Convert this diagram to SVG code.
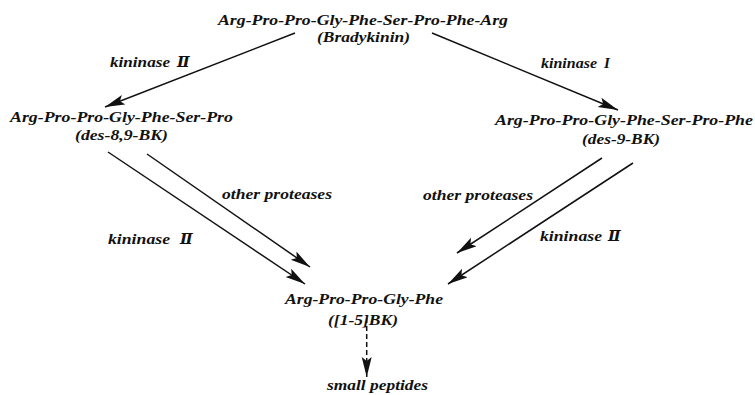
<svg xmlns="http://www.w3.org/2000/svg" width="755" height="395" viewBox="0 0 755 395">
<defs>
<style>
text{font-family:"Liberation Serif","Times New Roman","DejaVu Serif",serif;font-style:italic;font-weight:bold;font-size:15px;fill:#111}
.ln{stroke:#111;stroke-width:1.5;fill:none}
.dash{stroke-dasharray:5 3}
</style>
<marker id="ah" markerUnits="userSpaceOnUse" markerWidth="22" markerHeight="12" refX="20" refY="5" orient="auto">
<path d="M0,0 L20,5 L0,10 L4,5 z" fill="#111"/>
</marker>
</defs>
<rect width="755" height="395" fill="#fff"/>
<g id="bradykinin">
<text x="218" y="24.5" textLength="290" lengthAdjust="spacingAndGlyphs">Arg-Pro-Pro-Gly-Phe-Ser-Pro-Phe-Arg</text>
<text x="317" y="42" textLength="93" lengthAdjust="spacingAndGlyphs">(Bradykinin)</text>
</g>
<g id="des89bk">
<text x="10" y="122" textLength="223" lengthAdjust="spacingAndGlyphs">Arg-Pro-Pro-Gly-Phe-Ser-Pro</text>
<text x="75" y="140" textLength="93" lengthAdjust="spacingAndGlyphs">(des-8,9-BK)</text>
</g>
<g id="des9bk">
<text x="495" y="125" textLength="258" lengthAdjust="spacingAndGlyphs">Arg-Pro-Pro-Gly-Phe-Ser-Pro-Phe</text>
<text x="582" y="144" textLength="78" lengthAdjust="spacingAndGlyphs">(des-9-BK)</text>
</g>
<g id="bk15">
<text x="285" y="304" textLength="158" lengthAdjust="spacingAndGlyphs">Arg-Pro-Pro-Gly-Phe</text>
<text x="328" y="325" textLength="70" lengthAdjust="spacingAndGlyphs">([1-5]BK)</text>
</g>
<g id="smallpeptides">
<text x="327" y="390" textLength="101" lengthAdjust="spacingAndGlyphs">small peptides</text>
</g>
<g id="connectors">
<line class="ln" x1="295" y1="33" x2="105" y2="107" marker-end="url(#ah)"/>
<line class="ln" x1="432" y1="33" x2="618" y2="110" marker-end="url(#ah)"/>
<line class="ln" x1="108" y1="152" x2="305" y2="284" marker-end="url(#ah)"/>
<line class="ln" x1="147" y1="154" x2="310" y2="267" marker-end="url(#ah)"/>
<line class="ln" x1="602" y1="158" x2="457" y2="253" marker-end="url(#ah)"/>
<line class="ln" x1="633" y1="163" x2="448" y2="284" marker-end="url(#ah)"/>
<line class="ln dash" x1="366.7" y1="318" x2="366.7" y2="377" marker-end="url(#ah)"/>
</g>
<g id="labels">
<text x="110" y="67"><tspan textLength="60" lengthAdjust="spacingAndGlyphs">kininase</tspan><tspan x="177">Ⅱ</tspan></text>
<text x="541" y="68"><tspan textLength="56" lengthAdjust="spacingAndGlyphs">kininase</tspan><tspan x="604">I</tspan></text>
<text x="222" y="199" textLength="110" lengthAdjust="spacingAndGlyphs">other proteases</text>
<text x="423" y="200" textLength="110" lengthAdjust="spacingAndGlyphs">other proteases</text>
<text x="108" y="244"><tspan textLength="62" lengthAdjust="spacingAndGlyphs">kininase</tspan><tspan x="180">Ⅱ</tspan></text>
<text x="540" y="241"><tspan textLength="62" lengthAdjust="spacingAndGlyphs">kininase</tspan><tspan x="608">Ⅱ</tspan></text>
</g>
</svg>
